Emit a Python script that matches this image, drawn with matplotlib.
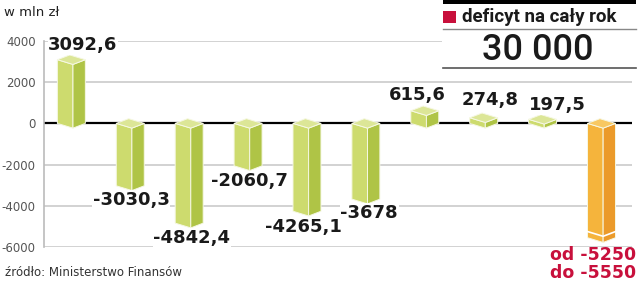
import matplotlib.pyplot as plt
from matplotlib.patches import Polygon, Rectangle
from matplotlib.lines import Line2D

# monthly budget balance, mln zl
values = [3092.6, -3030.3, -4842.4, -2060.7, -4265.1, -3678, 615.6, 274.8, 197.5, -5550]
labels = ['3092,6', '-3030,3', '-4842,4', '-2060,7', '-4265,1', '-3678',
          '615,6', '274,8', '197,5', 'od -5250\ndo -5550']
forecast_low = -5250
yticks = [4000, 2000, 0, -2000, -4000, -6000]
deficit_label = 'deficyt na cały rok'
deficit_value = '30 000'

# label placement (data coords), tuned by eye
label_pos = [(0.17, 3806), (0.985, -3718), (2.02, -5563), (2.99, -2796),
             (3.92, -5029), (5.03, -4350), (5.84, 1379), (7.08, 1136),
             (8.22, 893)]

green = ('#cddb6e', '#afc446', '#dce697')
orange = ('#f5b43c', '#eb9a2a', '#f8c862')
crimson = '#c8103c'

fig = plt.figure(figsize=(6.4, 2.86), dpi=100)
ax = fig.add_axes([44 / 640, 39 / 286, 588 / 640, 206 / 286])
ax.set_xlim(-0.492, 9.49)
ax.set_ylim(-6000, 4000)

for t in yticks:
    if t == 0:
        continue
    ax.axhline(t, color='#cfcfcf', lw=1.3, zorder=1)
ax.axhline(0, color='black', lw=1.6, zorder=2)

for side in ['top', 'right', 'bottom']:
    ax.spines[side].set_visible(False)
ax.spines['left'].set_color('#bbbbbb')
ax.spines['left'].set_linewidth(1.2)
ax.set_xticks([])
ax.set_yticks(yticks)
ax.set_yticklabels([str(t) for t in yticks], color='#555555', fontsize=8.5)
ax.tick_params(axis='y', length=0, pad=6)


def prism(x, v, colors, d=230):
    top, bot = max(v, 0), min(v, 0)
    L, F, R = x - 0.265, x, x + 0.21
    B = L + R - F
    left = [(L, top), (F, top - d), (F, bot - d), (L, bot)]
    right = [(F, top - d), (R, top), (R, bot), (F, bot - d)]
    cap = [(L, top), (B, top + d), (R, top), (F, top - d)]
    for pts, c in zip([left, right, cap], colors):
        ax.add_patch(Polygon(pts, closed=True, facecolor=c,
                             edgecolor='#f6f8e4', lw=0.7, zorder=3))
    return L, F, R


for i, v in enumerate(values):
    cols = orange if i == len(values) - 1 else green
    L, F, R = prism(i, v, cols)
    if i == len(values) - 1:
        ax.add_line(Line2D([L, F, R], [forecast_low, forecast_low - 230, forecast_low],
                           color='white', lw=1.2, zorder=4))

for (x, y), s in zip(label_pos, labels[:-1]):
    ax.text(x, y, s, ha='center', va='center', fontsize=13, fontweight='bold',
            color='#1a1a1a', zorder=5, clip_on=False,
            bbox=dict(facecolor='white', edgecolor='none', pad=0.5))

ax.text(9.56, -6825, labels[-1], ha='right', va='center', fontsize=12.5,
        fontweight='bold', color=crimson, linespacing=1.05, clip_on=False, zorder=5)

# legend box top right
fig.add_artist(Rectangle((442 / 640, 218 / 286), 194 / 640, 68 / 286,
                         transform=fig.transFigure, facecolor='white',
                         edgecolor='none', zorder=6))
fig.add_artist(Rectangle((443 / 640, 282 / 286), 193 / 640, 4 / 286,
                         transform=fig.transFigure, facecolor='black',
                         edgecolor='none', zorder=7))
fig.add_artist(Rectangle((443 / 640, 263 / 286), 13 / 640, 12 / 286,
                         transform=fig.transFigure, facecolor=crimson,
                         edgecolor='none', zorder=7))
fig.add_artist(Line2D([443 / 640, 636 / 640], [257 / 286, 257 / 286],
                      transform=fig.transFigure, color='#888888', lw=1, zorder=7))
fig.add_artist(Line2D([443 / 640, 636 / 640], [218 / 286, 218 / 286],
                      transform=fig.transFigure, color='#555555', lw=1.2, zorder=7))
fig.text(462 / 640, 269 / 286, deficit_label, ha='left', va='center',
         fontsize=13.5, family='Roboto', fontweight='bold', color='#1a1a1a', zorder=8)
fig.text(538 / 640, 236 / 286, deficit_value, ha='center', va='center',
         fontsize=26, family='Roboto', fontweight='medium', color='#1a1a1a', zorder=8)

fig.text(4 / 640, 274 / 286, 'w mln zł', ha='left', va='center',
         fontsize=9.5, color='#222222')
fig.text(5 / 640, 14 / 286, 'źródło: Ministerstwo Finansów', ha='left', va='center',
         fontsize=8.5, color='#333333')

fig.savefig('out.png', dpi=100)
